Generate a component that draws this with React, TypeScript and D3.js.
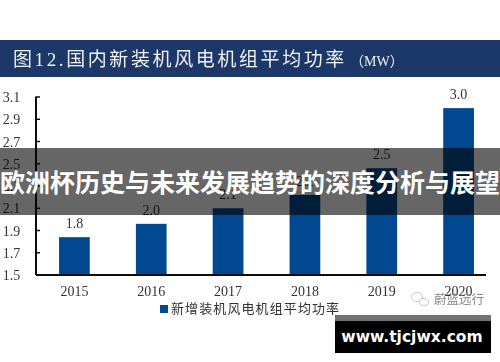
import React from "react";
import * as d3 from "d3";

const years = ["2015", "2016", "2017", "2018", "2019", "2020"];
const values = [1.84, 1.96, 2.1, 2.22, 2.46, 3.0];
const valueLabels = ["1.8", "2.0", "2.1", "2.2", "2.5", "3.0"];
const ticks = [1.5, 1.7, 1.9, 2.1, 2.3, 2.5, 2.7, 2.9, 3.1];

const serif = "'Liberation Serif', serif";
const cjkSerif = "'Liberation Serif', 'Noto Sans CJK SC', serif";

export default function App() {
  const y = d3.scaleLinear().domain([1.5, 3.1]).range([275, 97]);
  const x = d3.scaleBand<string>().domain(years).range([36, 497]).paddingInner(0.6).paddingOuter(0.3);
  return (
    <svg width={500} height={362} style={{ position: "absolute", left: 0, top: 0, background: "#fff" }}>
      <defs>
        <filter id="soft" x="-5%" y="-5%" width="110%" height="110%">
          <feGaussianBlur stdDeviation={0.4} />
        </filter>
      </defs>
      <g filter="url(#soft)">
        <rect x={0} y={40} width={500} height={37} fill="#1f3767" />
        <text x={13} y={66} fontSize={19} fill="#f0f0f0" fontFamily={cjkSerif} letterSpacing={2.6}>图12.国内新装机风电机组平均功率</text>
        <text x={350} y={66} fontSize={14} fill="#f0f0f0" fontFamily={cjkSerif}>（MW）</text>

        {ticks.map((t) => (
          <g key={t}>
            <line x1={36} x2={40} y1={y(t)} y2={y(t)} stroke="#111" strokeWidth={1.5} />
            <text x={11.5} y={y(t) + 5} fontSize={14} textAnchor="middle" fill="#333" fontFamily={serif}>{t.toFixed(1)}</text>
          </g>
        ))}
        {years.map((yr, i) => (
          <g key={yr}>
            <rect x={x(yr)} y={y(values[i])} width={x.bandwidth()} height={y(1.5) - y(values[i])} fill="#004a91" />
            <text x={x(yr)! + x.bandwidth() / 2} y={y(values[i]) - 9} fontSize={14} textAnchor="middle" fill="#333" fontFamily={serif}>{valueLabels[i]}</text>
            <text x={x(yr)! + x.bandwidth() / 2} y={296} fontSize={14} textAnchor="middle" fill="#333" fontFamily={serif}>{yr}</text>
          </g>
        ))}
        <line x1={36} x2={36} y1={96.5} y2={275} stroke="#111" strokeWidth={2} />
        <line x1={36} x2={486} y1={275} y2={275} stroke="#111" strokeWidth={2} />

        <rect x={160} y={305} width={8} height={8} fill="#004a91" />
        <text x={171} y={313} fontSize={13} fill="#333" fontFamily={cjkSerif} letterSpacing={1.1}>新增装机风电机组平均功率</text>

        <ellipse cx={417} cy={297} rx={5.5} ry={4.5} fill="none" stroke="#bbb" strokeWidth={0.8} />
        <ellipse cx={424} cy={302} rx={4.5} ry={3.5} fill="#fff" stroke="#bbb" strokeWidth={0.8} />
        <text x={434} y={304} fontSize={12.5} fill="#888" fontFamily={cjkSerif}>蔚蓝远行</text>
      </g>

      <rect x={0} y={148} width={500} height={67} fill="#000" fillOpacity={0.6} />
      <text x={250} y={192} fontSize={25} fontWeight={700} textAnchor="middle" fill="#fff" fontFamily="'Noto Sans CJK SC', sans-serif">欧洲杯历史与未来发展趋势的深度分析与展望</text>

      <rect x={335} y={315} width={156} height={6} fill="#737373" />
      <rect x={335} y={321} width={156} height={32} fill="#000" />
      <text x={412} y={342} fontSize={15.5} fontWeight={700} textAnchor="middle" fill="#fff" fontFamily="'DejaVu Sans', sans-serif">www.tjcjwx.com</text>
    </svg>
  );
}
